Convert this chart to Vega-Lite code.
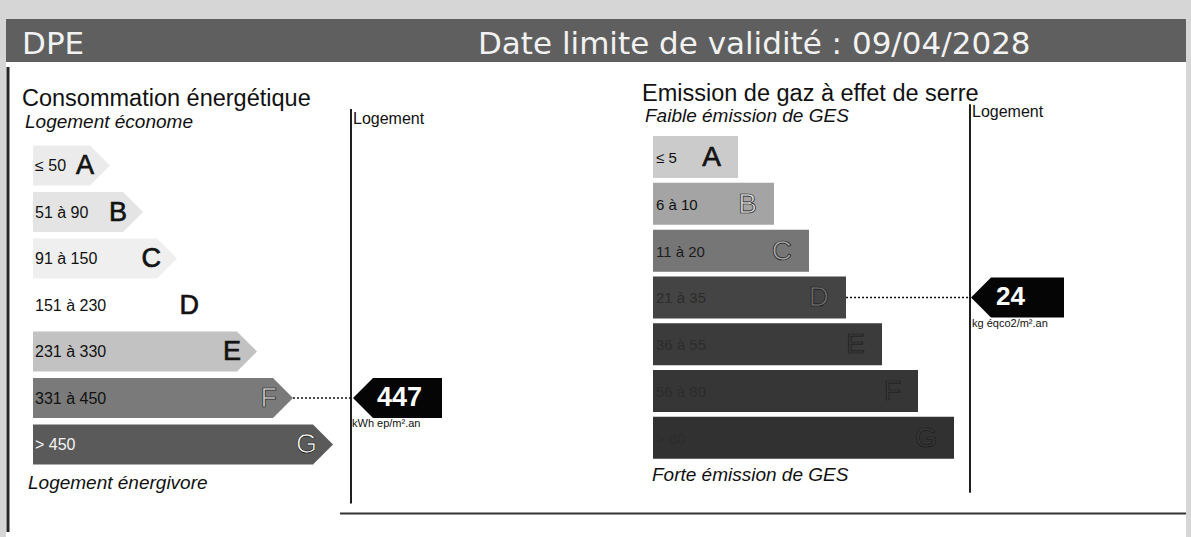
{
  "$schema": "https://vega.github.io/schema/vega-lite/v6.json",
  "background": "#d6d6d6",
  "padding": {"left": 6, "top": 19, "right": 5, "bottom": 0},
  "spacing": 0,
  "bounds": "flush",
  "config": {"view": {"stroke": null}, "font": "Liberation Sans"},
  "datasets": {
    "energie": [
      {"classe": "A", "rang": 1, "plage": "≤ 50", "longueur": 57},
      {"classe": "B", "rang": 2, "plage": "51 à 90", "longueur": 90},
      {"classe": "C", "rang": 3, "plage": "91 à 150", "longueur": 124},
      {"classe": "D", "rang": 4, "plage": "151 à 230", "longueur": 162},
      {"classe": "E", "rang": 5, "plage": "231 à 330", "longueur": 204},
      {"classe": "F", "rang": 6, "plage": "331 à 450", "longueur": 240},
      {"classe": "G", "rang": 7, "plage": "> 450", "longueur": 280}
    ],
    "ges": [
      {"classe": "A", "rang": 1, "plage": "≤ 5", "longueur": 85},
      {"classe": "B", "rang": 2, "plage": "6 à 10", "longueur": 121},
      {"classe": "C", "rang": 3, "plage": "11 à 20", "longueur": 156},
      {"classe": "D", "rang": 4, "plage": "21 à 35", "longueur": 193},
      {"classe": "E", "rang": 5, "plage": "36 à 55", "longueur": 229},
      {"classe": "F", "rang": 6, "plage": "56 à 80", "longueur": 265},
      {"classe": "G", "rang": 7, "plage": "> 80", "longueur": 301}
    ],
    "logement_energie": [{"classe": "F", "valeur": 447, "unite": "kWh ep/m².an"}],
    "logement_ges": [{"classe": "D", "valeur": 24, "unite": "kg éqco2/m².an"}],
    "vide": [{}]
  },
  "vconcat": [
    {
      "width": 1180,
      "height": 43,
      "view": {"fill": "#5f5f5f", "stroke": null},
      "data": {"name": "vide"},
      "layer": [
        {
          "mark": {"type": "text", "text": "DPE", "font": "DejaVu Sans", "fontSize": 31, "color": "#f2f2f2", "align": "left", "baseline": "alphabetic"},
          "encoding": {
            "x": {"datum": 0.0136, "type": "quantitative", "scale": {"domain": [0, 1], "nice": false, "zero": false}, "axis": null},
            "y": {"datum": 0.186, "type": "quantitative", "scale": {"domain": [0, 1], "nice": false, "zero": false}, "axis": null}
          }
        },
        {
          "mark": {"type": "text", "text": "Date limite de validité : 09/04/2028", "font": "DejaVu Sans", "fontSize": 31, "color": "#f2f2f2", "align": "left", "baseline": "alphabetic"},
          "encoding": {
            "x": {"datum": 0.4, "type": "quantitative", "scale": {"domain": [0, 1], "nice": false, "zero": false}, "axis": null},
            "y": {"datum": 0.186, "type": "quantitative", "scale": {"domain": [0, 1], "nice": false, "zero": false}, "axis": null}
          }
        }
      ]
    },
    {
      "spacing": 0,
      "bounds": "flush",
      "resolve": {"scale": {"color": "independent"}},
      "hconcat": [
        {
          "width": 594,
          "height": 475,
          "view": {"fill": "white", "stroke": null},
          "layer": [
            {
              "data": {"name": "vide"},
              "mark": {"type": "rule", "color": "#262626", "strokeWidth": 3},
              "encoding": {
                "x": {"datum": -25, "type": "quantitative", "scale": {"domain": [-27, 567], "nice": false, "zero": false}, "axis": null},
                "y": {"datum": -1.1158, "type": "quantitative", "scale": {"domain": [-1.1158, 8.8842], "reverse": true, "nice": false, "zero": false}, "axis": null},
                "y2": {"datum": 8.8842}
              }
            },
            {
              "data": {"name": "vide"},
              "mark": {"type": "rule", "color": "#1e1e1e", "strokeWidth": 2},
              "encoding": {
                "x": {"datum": 318, "type": "quantitative", "scale": {"domain": [-27, 567], "nice": false, "zero": false}, "axis": null},
                "y": {"datum": -0.2105, "type": "quantitative", "scale": {"domain": [-1.1158, 8.8842], "reverse": true, "nice": false, "zero": false}, "axis": null},
                "y2": {"datum": 8.2737}
              }
            },
            {
              "data": {"name": "vide"},
              "mark": {"type": "rule", "color": "#333333", "strokeWidth": 2},
              "encoding": {
                "x": {"datum": 307, "type": "quantitative", "scale": {"domain": [-27, 567], "nice": false, "zero": false}, "axis": null},
                "x2": {"datum": 567},
                "y": {"datum": 8.484, "type": "quantitative", "scale": {"domain": [-1.1158, 8.8842], "reverse": true, "nice": false, "zero": false}, "axis": null}
              }
            },
            {
              "data": {"name": "logement_energie"},
              "transform": [{"lookup": "classe", "from": {"data": {"name": "energie"}, "key": "classe", "fields": ["rang", "longueur"]}}],
              "mark": {"type": "rule", "color": "#111111", "strokeWidth": 1.5, "strokeDash": [2, 2]},
              "encoding": {
                "x": {"field": "longueur", "type": "quantitative", "scale": {"domain": [-27, 567], "nice": false, "zero": false}, "axis": null},
                "x2": {"datum": 320},
                "y": {"field": "rang", "type": "quantitative", "scale": {"domain": [-1.1158, 8.8842], "reverse": true, "nice": false, "zero": false}, "axis": null}
              }
            },
            {
              "data": {"name": "energie"},
              "mark": {"type": "bar", "orient": "horizontal", "height": 40},
              "encoding": {
                "x": {"field": "longueur", "type": "quantitative", "scale": {"domain": [-27, 567], "nice": false, "zero": false}, "axis": null},
                "x2": {"datum": 0},
                "y": {"field": "rang", "type": "quantitative", "scale": {"domain": [-1.1158, 8.8842], "reverse": true, "nice": false, "zero": false}, "axis": null},
                "color": {"field": "classe", "type": "nominal", "scale": {"domain": ["A", "B", "C", "D", "E", "F", "G"], "range": ["#ebebeb", "#e4e4e4", "#efefef", "#ffffff", "#c2c2c2", "#7a7a7a", "#5a5a5a"]}, "legend": null}
              }
            },
            {
              "data": {"name": "energie"},
              "mark": {"type": "point", "shape": "M0,-1L1,0L0,1Z", "size": 1600, "filled": true, "opacity": 1, "strokeWidth": 0},
              "encoding": {
                "x": {"field": "longueur", "type": "quantitative", "scale": {"domain": [-27, 567], "nice": false, "zero": false}, "axis": null},
                "y": {"field": "rang", "type": "quantitative", "scale": {"domain": [-1.1158, 8.8842], "reverse": true, "nice": false, "zero": false}, "axis": null},
                "color": {"field": "classe", "type": "nominal", "scale": {"domain": ["A", "B", "C", "D", "E", "F", "G"], "range": ["#ebebeb", "#e4e4e4", "#efefef", "#ffffff", "#c2c2c2", "#7a7a7a", "#5a5a5a"]}, "legend": null}
              }
            },
            {
              "data": {"name": "energie"},
              "mark": {"type": "text", "align": "left", "baseline": "middle", "fontSize": 16, "dy": 1},
              "encoding": {
                "x": {"datum": 2, "type": "quantitative", "scale": {"domain": [-27, 567], "nice": false, "zero": false}, "axis": null},
                "y": {"field": "rang", "type": "quantitative", "scale": {"domain": [-1.1158, 8.8842], "reverse": true, "nice": false, "zero": false}, "axis": null},
                "text": {"field": "plage"},
                "color": {"condition": {"test": "datum.rang == 7", "value": "#f4f4f4"}, "value": "#111111"}
              }
            },
            {
              "data": {"name": "energie"},
              "mark": {"type": "text", "align": "right", "baseline": "middle", "fontSize": 27, "dx": 4, "dy": 1, "stroke": "#1a1a1a", "strokeWidth": 0.7},
              "encoding": {
                "x": {"field": "longueur", "type": "quantitative", "scale": {"domain": [-27, 567], "nice": false, "zero": false}, "axis": null},
                "y": {"field": "rang", "type": "quantitative", "scale": {"domain": [-1.1158, 8.8842], "reverse": true, "nice": false, "zero": false}, "axis": null},
                "text": {"field": "classe"},
                "color": {"condition": [{"test": "datum.rang == 7", "value": "#f6f6f6"}, {"test": "datum.rang == 6", "value": "#cfcfcf"}], "value": "#111111"}
              }
            },
            {
              "data": {"name": "vide"},
              "mark": {"type": "text", "text": "Consommation énergétique", "align": "left", "baseline": "alphabetic", "fontSize": 23.5, "color": "#111111"},
              "encoding": {
                "x": {"datum": -11, "type": "quantitative", "scale": {"domain": [-27, 567], "nice": false, "zero": false}, "axis": null},
                "y": {"datum": -0.2737, "type": "quantitative", "scale": {"domain": [-1.1158, 8.8842], "reverse": true, "nice": false, "zero": false}, "axis": null}
              }
            },
            {
              "data": {"name": "vide"},
              "mark": {"type": "text", "text": "Logement économe", "align": "left", "baseline": "alphabetic", "fontSize": 19, "fontStyle": "italic", "color": "#111111"},
              "encoding": {
                "x": {"datum": -8, "type": "quantitative", "scale": {"domain": [-27, 567], "nice": false, "zero": false}, "axis": null},
                "y": {"datum": 0.1895, "type": "quantitative", "scale": {"domain": [-1.1158, 8.8842], "reverse": true, "nice": false, "zero": false}, "axis": null}
              }
            },
            {
              "data": {"name": "vide"},
              "mark": {"type": "text", "text": "Logement énergivore", "align": "left", "baseline": "alphabetic", "fontSize": 19, "fontStyle": "italic", "color": "#111111"},
              "encoding": {
                "x": {"datum": -5, "type": "quantitative", "scale": {"domain": [-27, 567], "nice": false, "zero": false}, "axis": null},
                "y": {"datum": 7.958, "type": "quantitative", "scale": {"domain": [-1.1158, 8.8842], "reverse": true, "nice": false, "zero": false}, "axis": null}
              }
            },
            {
              "data": {"name": "vide"},
              "mark": {"type": "text", "text": "Logement", "align": "left", "baseline": "alphabetic", "fontSize": 16, "color": "#111111"},
              "encoding": {
                "x": {"datum": 320, "type": "quantitative", "scale": {"domain": [-27, 567], "nice": false, "zero": false}, "axis": null},
                "y": {"datum": 0.1053, "type": "quantitative", "scale": {"domain": [-1.1158, 8.8842], "reverse": true, "nice": false, "zero": false}, "axis": null}
              }
            },
            {
              "data": {"name": "logement_energie"},
              "transform": [{"lookup": "classe", "from": {"data": {"name": "energie"}, "key": "classe", "fields": ["rang", "longueur"]}}],
              "mark": {"type": "point", "shape": "M0,0L1,-1L4.45,-1L4.45,1L1,1Z", "size": 1600, "filled": true, "opacity": 1, "strokeWidth": 0, "color": "#050505"},
              "encoding": {
                "x": {"datum": 320, "type": "quantitative", "scale": {"domain": [-27, 567], "nice": false, "zero": false}, "axis": null},
                "y": {"field": "rang", "type": "quantitative", "scale": {"domain": [-1.1158, 8.8842], "reverse": true, "nice": false, "zero": false}, "axis": null}
              }
            },
            {
              "data": {"name": "logement_energie"},
              "transform": [{"lookup": "classe", "from": {"data": {"name": "energie"}, "key": "classe", "fields": ["rang", "longueur"]}}],
              "mark": {"type": "text", "align": "left", "baseline": "middle", "fontSize": 27, "fontWeight": "bold", "color": "#ffffff", "dx": 24, "dy": 0},
              "encoding": {
                "x": {"datum": 320, "type": "quantitative", "scale": {"domain": [-27, 567], "nice": false, "zero": false}, "axis": null},
                "y": {"field": "rang", "type": "quantitative", "scale": {"domain": [-1.1158, 8.8842], "reverse": true, "nice": false, "zero": false}, "axis": null},
                "text": {"field": "valeur"}
              }
            },
            {
              "data": {"name": "logement_energie"},
              "transform": [{"lookup": "classe", "from": {"data": {"name": "energie"}, "key": "classe", "fields": ["rang", "longueur"]}}],
              "mark": {"type": "text", "align": "left", "baseline": "alphabetic", "fontSize": 11, "color": "#111111", "dy": 29},
              "encoding": {
                "x": {"datum": 319, "type": "quantitative", "scale": {"domain": [-27, 567], "nice": false, "zero": false}, "axis": null},
                "y": {"field": "rang", "type": "quantitative", "scale": {"domain": [-1.1158, 8.8842], "reverse": true, "nice": false, "zero": false}, "axis": null},
                "text": {"field": "unite"}
              }
            }
          ]
        },
        {
          "width": 586,
          "height": 475,
          "view": {"fill": "white", "stroke": null},
          "layer": [
            {
              "data": {"name": "vide"},
              "mark": {"type": "rule", "color": "#1e1e1e", "strokeWidth": 2},
              "encoding": {
                "x": {"datum": 317, "type": "quantitative", "scale": {"domain": [-53, 533], "nice": false, "zero": false}, "axis": null},
                "y": {"datum": -0.1297, "type": "quantitative", "scale": {"domain": [-0.9247, 9.0126], "reverse": true, "nice": false, "zero": false}, "axis": null},
                "y2": {"datum": 8.1757}
              }
            },
            {
              "data": {"name": "vide"},
              "mark": {"type": "rule", "color": "#333333", "strokeWidth": 2},
              "encoding": {
                "x": {"datum": -53, "type": "quantitative", "scale": {"domain": [-53, 533], "nice": false, "zero": false}, "axis": null},
                "x2": {"datum": 533},
                "y": {"datum": 8.615, "type": "quantitative", "scale": {"domain": [-0.9247, 9.0126], "reverse": true, "nice": false, "zero": false}, "axis": null}
              }
            },
            {
              "data": {"name": "logement_ges"},
              "transform": [{"lookup": "classe", "from": {"data": {"name": "ges"}, "key": "classe", "fields": ["rang", "longueur"]}}],
              "mark": {"type": "rule", "color": "#111111", "strokeWidth": 1.5, "strokeDash": [2, 2]},
              "encoding": {
                "x": {"field": "longueur", "type": "quantitative", "scale": {"domain": [-53, 533], "nice": false, "zero": false}, "axis": null},
                "x2": {"datum": 318},
                "y": {"field": "rang", "type": "quantitative", "scale": {"domain": [-0.9247, 9.0126], "reverse": true, "nice": false, "zero": false}, "axis": null}
              }
            },
            {
              "data": {"name": "ges"},
              "mark": {"type": "bar", "orient": "horizontal", "height": 42},
              "encoding": {
                "x": {"field": "longueur", "type": "quantitative", "scale": {"domain": [-53, 533], "nice": false, "zero": false}, "axis": null},
                "x2": {"datum": 0},
                "y": {"field": "rang", "type": "quantitative", "scale": {"domain": [-0.9247, 9.0126], "reverse": true, "nice": false, "zero": false}, "axis": null},
                "color": {"field": "classe", "type": "nominal", "scale": {"domain": ["A", "B", "C", "D", "E", "F", "G"], "range": ["#cbcbcb", "#a4a4a4", "#767676", "#444444", "#3b3b3b", "#363636", "#313131"]}, "legend": null}
              }
            },
            {
              "data": {"name": "ges"},
              "mark": {"type": "text", "align": "left", "baseline": "middle", "fontSize": 15, "dy": 1},
              "encoding": {
                "x": {"datum": 3, "type": "quantitative", "scale": {"domain": [-53, 533], "nice": false, "zero": false}, "axis": null},
                "y": {"field": "rang", "type": "quantitative", "scale": {"domain": [-0.9247, 9.0126], "reverse": true, "nice": false, "zero": false}, "axis": null},
                "text": {"field": "plage"},
                "color": {"condition": [{"test": "datum.rang >= 4", "value": "#2c2c2c"}, {"test": "datum.rang == 3", "value": "#1c1c1c"}], "value": "#111111"}
              }
            },
            {
              "data": {"name": "ges"},
              "mark": {"type": "text", "align": "right", "baseline": "middle", "fontSize": 28, "dx": -17, "dy": 1, "stroke": "#1a1a1a", "strokeWidth": 0.7},
              "encoding": {
                "x": {"field": "longueur", "type": "quantitative", "scale": {"domain": [-53, 533], "nice": false, "zero": false}, "axis": null},
                "y": {"field": "rang", "type": "quantitative", "scale": {"domain": [-0.9247, 9.0126], "reverse": true, "nice": false, "zero": false}, "axis": null},
                "text": {"field": "classe"},
                "color": {"condition": [{"test": "datum.rang >= 5", "value": "#3a3a3a"}, {"test": "datum.rang == 4", "value": "#6a6a6a"}, {"test": "datum.rang == 3", "value": "#a8a8a8"}, {"test": "datum.rang == 2", "value": "#d6d6d6"}], "value": "#111111"}
              }
            },
            {
              "data": {"name": "vide"},
              "mark": {"type": "text", "text": "Emission de gaz à effet de serre", "align": "left", "baseline": "alphabetic", "fontSize": 23.5, "color": "#111111"},
              "encoding": {
                "x": {"datum": -11, "type": "quantitative", "scale": {"domain": [-53, 533], "nice": false, "zero": false}, "axis": null},
                "y": {"datum": -0.1925, "type": "quantitative", "scale": {"domain": [-0.9247, 9.0126], "reverse": true, "nice": false, "zero": false}, "axis": null}
              }
            },
            {
              "data": {"name": "vide"},
              "mark": {"type": "text", "text": "Faible émission de GES", "align": "left", "baseline": "alphabetic", "fontSize": 19, "fontStyle": "italic", "color": "#111111"},
              "encoding": {
                "x": {"datum": -8, "type": "quantitative", "scale": {"domain": [-53, 533], "nice": false, "zero": false}, "axis": null},
                "y": {"datum": 0.2469, "type": "quantitative", "scale": {"domain": [-0.9247, 9.0126], "reverse": true, "nice": false, "zero": false}, "axis": null}
              }
            },
            {
              "data": {"name": "vide"},
              "mark": {"type": "text", "text": "Forte émission de GES", "align": "left", "baseline": "alphabetic", "fontSize": 19, "fontStyle": "italic", "color": "#111111"},
              "encoding": {
                "x": {"datum": -1, "type": "quantitative", "scale": {"domain": [-53, 533], "nice": false, "zero": false}, "axis": null},
                "y": {"datum": 7.9247, "type": "quantitative", "scale": {"domain": [-0.9247, 9.0126], "reverse": true, "nice": false, "zero": false}, "axis": null}
              }
            },
            {
              "data": {"name": "vide"},
              "mark": {"type": "text", "text": "Logement", "align": "left", "baseline": "alphabetic", "fontSize": 16, "color": "#111111"},
              "encoding": {
                "x": {"datum": 319, "type": "quantitative", "scale": {"domain": [-53, 533], "nice": false, "zero": false}, "axis": null},
                "y": {"datum": 0.1423, "type": "quantitative", "scale": {"domain": [-0.9247, 9.0126], "reverse": true, "nice": false, "zero": false}, "axis": null}
              }
            },
            {
              "data": {"name": "logement_ges"},
              "transform": [{"lookup": "classe", "from": {"data": {"name": "ges"}, "key": "classe", "fields": ["rang", "longueur"]}}],
              "mark": {"type": "point", "shape": "M0,0L1,-1L4.65,-1L4.65,1L1,1Z", "size": 1600, "filled": true, "opacity": 1, "strokeWidth": 0, "color": "#050505"},
              "encoding": {
                "x": {"datum": 318, "type": "quantitative", "scale": {"domain": [-53, 533], "nice": false, "zero": false}, "axis": null},
                "y": {"field": "rang", "type": "quantitative", "scale": {"domain": [-0.9247, 9.0126], "reverse": true, "nice": false, "zero": false}, "axis": null}
              }
            },
            {
              "data": {"name": "logement_ges"},
              "transform": [{"lookup": "classe", "from": {"data": {"name": "ges"}, "key": "classe", "fields": ["rang", "longueur"]}}],
              "mark": {"type": "text", "align": "left", "baseline": "middle", "fontSize": 26, "fontWeight": "bold", "color": "#ffffff", "dx": 25, "dy": 0},
              "encoding": {
                "x": {"datum": 318, "type": "quantitative", "scale": {"domain": [-53, 533], "nice": false, "zero": false}, "axis": null},
                "y": {"field": "rang", "type": "quantitative", "scale": {"domain": [-0.9247, 9.0126], "reverse": true, "nice": false, "zero": false}, "axis": null},
                "text": {"field": "valeur"}
              }
            },
            {
              "data": {"name": "logement_ges"},
              "transform": [{"lookup": "classe", "from": {"data": {"name": "ges"}, "key": "classe", "fields": ["rang", "longueur"]}}],
              "mark": {"type": "text", "align": "left", "baseline": "alphabetic", "fontSize": 11, "color": "#111111", "dy": 30},
              "encoding": {
                "x": {"datum": 319, "type": "quantitative", "scale": {"domain": [-53, 533], "nice": false, "zero": false}, "axis": null},
                "y": {"field": "rang", "type": "quantitative", "scale": {"domain": [-0.9247, 9.0126], "reverse": true, "nice": false, "zero": false}, "axis": null},
                "text": {"field": "unite"}
              }
            }
          ]
        }
      ]
    }
  ]
}
